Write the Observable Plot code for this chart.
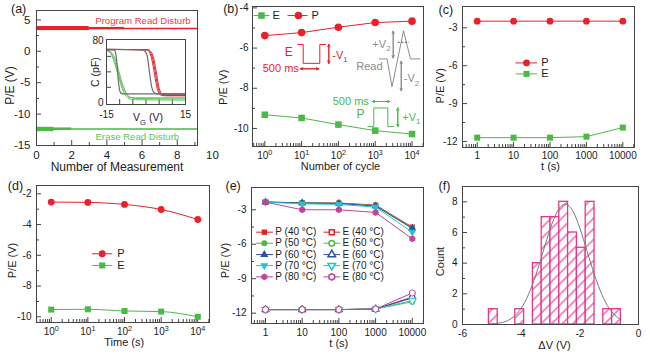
<!DOCTYPE html>
<html><head><meta charset="utf-8">
<script src="https://cdn.jsdelivr.net/npm/d3@7"></script>
<script src="https://cdn.jsdelivr.net/npm/@observablehq/plot@0.6"></script>
<style>
body{margin:0;background:#fff;}
#root{position:relative;width:650px;height:355px;overflow:hidden;background:#fff;}
#root svg{position:absolute;overflow:visible;}
</style></head><body><div id="root"></div>
<script>
// ---------------- DATA ----------------
// (a) read disturb
const aMeasurement = [0, 9.1];
const aProgram = [3.63, 3.63];
const aErase = [-12.37, -12.37];
const aProgramBands = [{from: 0, to: 3, lo: 3.3, hi: 3.95}, {from: 3, to: 5, lo: 3.45, hi: 3.8}];
const aEraseBands = [{from: 0, to: 1, lo: -12.8, hi: -12.1}, {from: 1, to: 2, lo: -12.6, hi: -12.2}];
// (a) inset C-V curves [V_G, C]
const cvGrayErase = [[-15,68.5],[-13,68.5],[-12,68],[-11.5,64],[-11,50],[-10.5,29],[-10,16],[-9.5,12.5],[-8.5,11.5],[15,11.5]];
const cvGrayProgram = [[-15,69],[-1.5,68.5],[-0.5,67],[0.5,60],[1.3,40],[2.2,20],[3,13.5],[4.5,11.5],[15,11.5]];
const cvRed1 = [[-15,69],[0,68.5],[1,66.5],[2,59],[3,42],[4,22],[5,12],[6,9.5],[8,9],[15,9]];
const cvRed2 = [[-15,69],[0.4,68.5],[1.4,66.5],[2.4,59],[3.4,42],[4.4,22],[5.4,12],[6.4,10],[8.4,9.5],[15,9.5]];
const cvRed3 = [[-15,69],[0.8,68.5],[1.8,66.5],[2.8,59],[3.8,42],[4.8,22],[5.8,12.5],[6.8,10.5],[8.8,10.5],[15,10.5]];
const cvGreen1 = [[-15,68],[-14,67],[-13,63],[-12,55],[-11,44],[-10,32],[-9,21],[-8,13],[-7,9],[-6,7],[-4,6.5],[15,6.5]];
const cvGreen2 = [[-15,68],[-14,67.5],[-13,65],[-12,59],[-11,49],[-10,37],[-9,25],[-8,16],[-7,10],[-6,7],[-4,5.5],[15,5]];
const cvGreen3 = [[-15,67],[-14,66],[-13,61],[-12,52],[-11,41],[-10,29],[-9,18],[-8,11],[-7,7],[-6,5],[-4,4],[15,3.5]];
// (b) endurance
const cycles = [1, 10, 100, 1000, 10000];
const bP = [-5.38, -5.23, -4.96, -4.73, -4.66];
const bE = [-9.32, -9.48, -9.81, -10.11, -10.28];
// (b) pulse schematics (in chart coordinates)
const bErasePulseX = [7.88, 11.05, 11.05, 31.2, 31.2, 44.6];
const bErasePulseY = [-5.82, -5.82, -6.76, -6.76, -5.82, -5.82];
const bReadX = [1309, 2093, 2864, 5875, 9103, 16490];
const bReadY = [-6.54, -6.54, -7.92, -5.14, -6.54, -6.54];
const bProgPulseX = [629, 916, 916, 2199, 2199, 3201];
const bProgPulseY = [-9.91, -9.91, -8.98, -8.98, -9.91, -9.91];
// (c) retention
const cTime = [1, 10, 100, 1000, 10000];
const cP = [-2.47, -2.47, -2.47, -2.47, -2.47];
const cE = [-11.7, -11.7, -11.7, -11.62, -10.9];
// (d) retention
const dTime = [1, 10, 100, 1000, 10000];
const dP = [-2.54, -2.56, -2.69, -3.02, -3.67];
const dE = [-9.53, -9.51, -9.62, -9.66, -10.0];
// (e) retention at temperature
const eTime = [1, 10, 100, 1000, 10000];
const eTemps = [40, 50, 60, 70, 80];
const eP = [
  [-2.33, -2.39, -2.42, -2.59, -4.51],
  [-2.33, -2.39, -2.43, -2.63, -4.57],
  [-2.33, -2.41, -2.45, -2.68, -4.63],
  [-2.33, -2.48, -2.53, -2.77, -4.95],
  [-2.33, -3.0, -3.0, -3.23, -5.53]];
const eE = [
  [-11.69, -11.69, -11.69, -11.64, -10.68],
  [-11.69, -11.69, -11.69, -11.64, -11.0],
  [-11.69, -11.69, -11.69, -11.64, -10.6],
  [-11.69, -11.69, -11.69, -11.64, -10.9],
  [-11.69, -11.69, -11.69, -11.64, -10.24]];
// (f) histogram of ΔV
const fBinStart = [-5.1, -4.2, -3.6, -3.3, -3.0, -2.7, -2.4, -2.1, -1.8, -1.2, -0.9];
const fBinEnd = [-4.8, -3.9, -3.3, -3.0, -2.7, -2.4, -2.1, -1.8, -1.5, -0.9, -0.6];
const fCount = [1, 1, 4, 7, 7, 8, 6, 5, 8, 1, 1];
const fFitX = [-5.0,-4.75,-4.5,-4.25,-4.0,-3.75,-3.5,-3.25,-3.0,-2.75,-2.5,-2.25,-2.0,-1.75,-1.5,-1.25,-1.0,-0.75,-0.6];
const fFitY = [0.03,0.09,0.22,0.52,1.06,1.96,3.23,4.76,6.29,7.43,7.85,7.43,6.29,4.76,3.23,1.96,1.06,0.52,0.32];

// ---------------- STYLE ----------------
const RED = "#e8212b", GREEN = "#4cb848", FRAME = "#454545", TXT = "#1c1c1c", GRAY = "#8c8c8c", PINK = "#e9348c";
const FONT = "'Liberation Sans', Arial, sans-serif";
const TEMP_COLORS = ["#ec1c24", "#4db748", "#2f4fa2", "#22c4d4", "#c2449a"];
const triangleDown = {draw(ctx, size) {const y = Math.sqrt(size / (Math.sqrt(3) * 3)); ctx.moveTo(0, y * 2); ctx.lineTo(-Math.sqrt(3) * y, -y); ctx.lineTo(Math.sqrt(3) * y, -y); ctx.closePath();}};
const TEMP_SYMBOLS = ["square", "circle", "triangle", triangleDown, "hexagon"];

const root = document.getElementById("root");
const rows = (xs, ys) => xs.map((x, i) => ({x, y: ys[i]}));
const pairs = (a) => a.map(([x, y]) => ({x, y}));
function logMinor(lo, hi) {const out = []; for (let e = -1; e <= 5; e++) for (let k = 2; k <= 9; k++) {const v = k * 10 ** e; if (v > lo && v < hi) out.push(v);} return out;}
const pow10 = d => "10^{" + Math.round(Math.log10(d)) + "}";
const LA = {lineAnchor: "middle"};

function rich(svg) {
  d3.select(svg).selectAll("text").each(function() {
    const t = this.textContent;
    if (!/[_^]\{/.test(t)) return;
    const parts = t.split(/([_^]\{[^}]*\})/).filter(s => s.length);
    const fs = parseFloat(getComputedStyle(this).fontSize) || 10;
    this.textContent = "";
    let shift = 0;
    for (const p of parts) {
      const ts = document.createElementNS("http://www.w3.org/2000/svg", "tspan");
      let target = 0, txt = p, small = false;
      if (p.startsWith("^{")) {target = -0.42 * fs; txt = p.slice(2, -1); small = true;}
      else if (p.startsWith("_{")) {target = 0.3 * fs; txt = p.slice(2, -1); small = true;}
      ts.setAttribute("dy", target - shift); shift = target;
      if (small) ts.setAttribute("font-size", (fs * 0.72).toFixed(1));
      ts.textContent = txt;
      this.appendChild(ts);
    }
  });
}

function label(x, y, t, o) {
  return Plot.text([{x, y, t}], {x: "x", y: "y", text: "t", lineAnchor: "middle", ...o});
}

function panel(c) {
  const fw = c.width - c.ml - c.mr, fh = c.height - c.mt - c.mb;
  const fs = c.fs || 10;
  const marks = [
    Plot.tickX(c.xMajor, {x: d => d, insetTop: fh - 5, stroke: FRAME}),
    Plot.tickX(c.xMinor || [], {x: d => d, insetTop: fh - 3, stroke: FRAME}),
    Plot.tickY(c.yMajor, {y: d => d, insetRight: fw - 5, stroke: FRAME}),
    Plot.tickY(c.yMinor || [], {y: d => d, insetRight: fw - 3, stroke: FRAME}),
    ...c.marks,
    Plot.frame({stroke: FRAME}),
    Plot.text(c.xLabels || c.xMajor, {x: d => d, text: c.xFmt || (d => String(d)), frameAnchor: "bottom", dy: c.xLabDy ?? 10, fontSize: fs, ...LA}),
    Plot.text(c.yLabels || c.yMajor, {y: d => d, text: c.yFmt || (d => String(d)), frameAnchor: "left", textAnchor: "end", dx: c.yLabDx ?? -5, fontSize: fs, ...LA}),
  ];
  if (c.xTitle) marks.push(Plot.text([c.xTitle], {text: d => d, frameAnchor: "bottom", dy: c.xTitleDy, dx: c.xTitleDx || 0, fontSize: c.titleFs || fs + 1, ...LA}));
  if (c.yTitle) marks.push(Plot.text([c.yTitle], {text: d => d, frameAnchor: "left", textAnchor: "middle", rotate: -90, dx: c.yTitleDx, dy: c.yTitleDy || 0, fontSize: c.titleFs || fs + 1, ...LA}));
  if (c.tag) marks.push(Plot.text([c.tag], {text: d => d, frameAnchor: "top-left", textAnchor: "start", dx: c.tagDx, dy: c.tagDy, fontSize: 12.5, ...LA}));
  const svg = Plot.plot({
    width: c.width, height: c.height,
    marginTop: c.mt, marginRight: c.mr, marginBottom: c.mb, marginLeft: c.ml,
    x: {...c.x, axis: null}, y: {...c.y, axis: null},
    style: {background: "transparent", fontFamily: FONT, fontSize: fs + "px", color: TXT, overflow: "visible"},
    marks
  });
  svg.style.left = c.left + "px";
  svg.style.top = c.top + "px";
  root.appendChild(svg);
  if (c.after) c.after(svg);
  rich(svg);
  return svg;
}

function dblArrow(list, color) {
  const fwd = list, back = list.map(d => ({x1: d.x2, y1: d.y2, x2: d.x1, y2: d.y1}));
  return [fwd, back].map(data => Plot.arrow(data, {x1: "x1", y1: "y1", x2: "x2", y2: "y2", stroke: color, strokeWidth: 1, headLength: 4, headAngle: 50}));
}
function seg(x1, x2, y, stroke) {
  return Plot.link([{x1, x2, y}], {x1: "x1", x2: "x2", y1: "y", y2: "y", stroke});
}

// ---------------- (a) ----------------
panel({
  left: 0, top: 0, width: 222, height: 175, mt: 10, mr: 25, mb: 30, ml: 36,
  x: {domain: [0, 9.15]}, y: {domain: [-15, 6.5]},
  xMajor: [0, 2, 4, 6, 8], xMinor: [1, 3, 5, 7, 9], xLabels: [0, 2, 4, 6, 8, 10],
  yMajor: [-15, -10, -5, 0, 5], yMinor: [-12.5, -7.5, -2.5, 2.5],
  fs: 11.5, titleFs: 12, xTitle: "Number of Measurement", xTitleDy: 21.5, yTitle: "P/E (V)", yTitleDx: -26, yTitleDy: 7.5,
  tag: "(a)", tagDx: -25.5, tagDy: -1.5, xLabDy: 10, yLabDx: -6,
  marks: [
    Plot.rect(aProgramBands, {x1: "from", x2: "to", y1: "lo", y2: "hi", fill: RED}),
    Plot.line(rows(aMeasurement, aProgram), {x: "x", y: "y", stroke: RED, strokeWidth: 1.6}),
    Plot.rect(aEraseBands, {x1: "from", x2: "to", y1: "lo", y2: "hi", fill: GREEN}),
    Plot.line(rows(aMeasurement, aErase), {x: "x", y: "y", stroke: GREEN, strokeWidth: 1.6}),
    label(6.05, 4.83, "Program Read Disturb", {fill: "#f03a3a", fontSize: 9.6}),
    label(5.73, -13.6, "Erase Read Disturb", {fill: "#5cc65c", fontSize: 9.6}),
  ]
});

// inset of (a)
panel({
  left: 80, top: 30, width: 115, height: 95, mt: 9, mr: 10, mb: 21, ml: 26,
  x: {domain: [-15, 15]}, y: {domain: [-2.2, 81.8]},
  xMajor: [-10, -5, 0, 5, 10], xLabels: [-15, 15], yMajor: [20, 40, 60], yLabels: [0, 80],
  fs: 10, titleFs: 10.5, xLabDy: 10.5, yLabDx: -3,
  xTitle: "V_{G} (V)", xTitleDy: 13.5, xTitleDx: 2, yTitle: "C (pF)", yTitleDx: -11,
  marks: [
    ...[cvGreen1, cvGreen2, cvGreen3].map(cv => Plot.line(pairs(cv), {x: "x", y: "y", stroke: "#5cc65a", strokeWidth: 1, curve: "monotone-x"})),
    ...[cvRed1, cvRed2, cvRed3].map(cv => Plot.line(pairs(cv), {x: "x", y: "y", stroke: RED, strokeWidth: 1, curve: "monotone-x"})),
    ...[cvGrayErase, cvGrayProgram].map(cv => Plot.line(pairs(cv), {x: "x", y: "y", stroke: "#6e6e6e", strokeWidth: 1.2, curve: "monotone-x"})),
  ]
});

// ---------------- (b) ----------------
const bXdom = [0.4634, 20512];
panel({
  left: 215, top: 0, width: 215, height: 175, mt: 6, mr: 7, mb: 29, ml: 37,
  x: {type: "log", domain: bXdom}, y: {domain: [-10.9, -3.93]},
  xMajor: cycles, xMinor: logMinor(...bXdom), xFmt: pow10,
  yMajor: [-10, -8, -6, -4], yMinor: [-9, -7, -5],
  xTitle: "Number of cycle", xTitleDy: 20, xTitleDx: 2.5, yTitle: "P/E (V)", yTitleDx: -28.7, yTitleDy: 10.7,
  tag: "(b)", tagDx: -29.3, tagDy: 2.3, xLabDy: 9.5, yLabDx: -4,
  marks: [
    // pulse schematics
    Plot.line(rows(bErasePulseX, bErasePulseY), {x: "x", y: "y", stroke: RED, strokeWidth: 1}),
    ...dblArrow([{x1: 54.8, y1: -5.82, x2: 54.8, y2: -6.76}, {x1: 9.33, y1: -7.03, x2: 29.3, y2: -7.03}], RED),
    label(4.49, -6.21, "E", {fill: RED, fontSize: 12}),
    label(67.9, -6.37, "-V_{1}", {fill: RED, fontSize: 11, textAnchor: "start"}),
    label(8.4, -7.03, "500 ms", {fill: RED, fontSize: 11, textAnchor: "end"}),
    Plot.line(rows(bReadX, bReadY), {x: "x", y: "y", stroke: GRAY, strokeWidth: 1}),
    ...dblArrow([{x1: 3084, y1: -5.16, x2: 3084, y2: -6.49}, {x1: 5090, y1: -6.66, x2: 5090, y2: -8.12}], GRAY),
    Plot.link([{x1: 4111, x2: 8185, y: -5.71}], {x1: "x1", x2: "x2", y1: "y", y2: "y", stroke: "#555", strokeDasharray: "2,1.5"}),
    label(2606, -5.82, "+V_{2}", {fill: GRAY, fontSize: 11, textAnchor: "end"}),
    label(1578, -6.92, "Read", {fill: GRAY, fontSize: 11, textAnchor: "end"}),
    label(5986, -7.53, "-V_{2}", {fill: GRAY, fontSize: 11, textAnchor: "start"}),
    Plot.line(rows(bProgPulseX, bProgPulseY), {x: "x", y: "y", stroke: GREEN, strokeWidth: 1}),
    ...dblArrow([{x1: 4111, y1: -8.98, x2: 4111, y2: -9.91}, {x1: 829, y1: -8.66, x2: 2495, y2: -8.66}], GREEN),
    label(399, -9.31, "P", {fill: GREEN, fontSize: 12}),
    label(5420, -9.45, "+V_{1}", {fill: GREEN, fontSize: 11, textAnchor: "start"}),
    label(670, -8.66, "500 ms", {fill: GREEN, fontSize: 11, textAnchor: "end"}),
    // data
    Plot.line(rows(cycles, bP), {x: "x", y: "y", stroke: RED, strokeWidth: 1}),
    Plot.dot(rows(cycles, bP), {x: "x", y: "y", fill: RED, r: 3.8, symbol: "circle"}),
    Plot.line(rows(cycles, bE), {x: "x", y: "y", stroke: GREEN, strokeWidth: 1}),
    Plot.dot(rows(cycles, bE), {x: "x", y: "y", fill: GREEN, r: 3.7, symbol: "square"}),
    // legend
    seg(0.493, 1.34, -4.38, GREEN),
    Plot.dot([{x: 0.813, y: -4.38}], {x: "x", y: "y", fill: GREEN, r: 3.7, symbol: "square"}),
    label(1.62, -4.38, "E", {textAnchor: "start", fontSize: 11}),
    seg(4.14, 14.5, -4.38, RED),
    Plot.dot([{x: 8.2, y: -4.38}], {x: "x", y: "y", fill: RED, r: 3.8, symbol: "circle"}),
    label(18.6, -4.38, "P", {textAnchor: "start", fontSize: 11}),
  ]
});

// ---------------- (c) ----------------
const cXdom = [0.3945, 20941];
panel({
  left: 430, top: 0, width: 220, height: 175, mt: 6, mr: 16, mb: 28, ml: 32,
  x: {type: "log", domain: cXdom}, y: {domain: [-12.48, -1.31]},
  xMajor: cTime, xMinor: logMinor(...cXdom),
  yMajor: [-12, -9, -6, -3], yMinor: [-10.5, -7.5, -4.5],
  xTitle: "t (s)", xTitleDy: 19, xTitleDx: 2, yTitle: "P/E (V)", yTitleDx: -22, yTitleDy: 8.7,
  tag: "(c)", tagDx: -24, tagDy: 3.3, xLabDy: 8.5,
  marks: [
    Plot.line(rows(cTime, cP), {x: "x", y: "y", stroke: RED, strokeWidth: 1}),
    Plot.dot(rows(cTime, cP), {x: "x", y: "y", fill: RED, r: 3.4, symbol: "circle"}),
    Plot.line(rows(cTime, cE), {x: "x", y: "y", stroke: GREEN, strokeWidth: 1}),
    Plot.dot(rows(cTime, cE), {x: "x", y: "y", fill: GREEN, r: 3.4, symbol: "square"}),
    seg(11.3, 44.5, -5.78, RED),
    Plot.dot([{x: 22.6, y: -5.78}], {x: "x", y: "y", fill: RED, r: 3.4, symbol: "circle"}),
    label(57.3, -5.78, "P", {textAnchor: "start", fontSize: 11}),
    seg(11.3, 44.5, -6.65, GREEN),
    Plot.dot([{x: 22.6, y: -6.65}], {x: "x", y: "y", fill: GREEN, r: 3.4, symbol: "square"}),
    label(57.3, -6.65, "E", {textAnchor: "start", fontSize: 11}),
  ]
});

// ---------------- (d) ----------------
const dXdom = [0.397, 20845];
panel({
  left: 0, top: 175, width: 215, height: 180, mt: 10, mr: 6, mb: 33, ml: 36,
  x: {type: "log", domain: dXdom}, y: {domain: [-10.37, -1.46]},
  xMajor: dTime, xMinor: logMinor(...dXdom), xFmt: pow10,
  yMajor: [-10, -8, -6, -4, -2], yMinor: [-9, -7, -5, -3],
  xTitle: "Time (s)", xTitleDy: 20, xTitleDx: 1.2, yTitle: "P/E (V)", yTitleDx: -24.3, yTitleDy: 6.5,
  tag: "(d)", tagDx: -28.7, tagDy: 0, xLabDy: 9.5,
  marks: [
    Plot.line(rows(dTime, dP), {x: "x", y: "y", stroke: RED, strokeWidth: 1, curve: "monotone-x"}),
    Plot.dot(rows(dTime, dP), {x: "x", y: "y", fill: RED, r: 3.4, symbol: "circle"}),
    Plot.line(rows(dTime, dE), {x: "x", y: "y", stroke: GREEN, strokeWidth: 1, curve: "monotone-x"}),
    Plot.dot(rows(dTime, dE), {x: "x", y: "y", fill: GREEN, r: 3.4, symbol: "square"}),
    seg(13.1, 46.2, -5.9, RED),
    Plot.dot([{x: 24.6, y: -5.9}], {x: "x", y: "y", fill: RED, r: 3.4, symbol: "circle"}),
    label(63.2, -5.9, "P", {textAnchor: "start", fontSize: 11}),
    seg(13.1, 46.2, -6.66, GREEN),
    Plot.dot([{x: 24.6, y: -6.66}], {x: "x", y: "y", fill: GREEN, r: 3.4, symbol: "square"}),
    label(63.2, -6.66, "E", {textAnchor: "start", fontSize: 11}),
  ]
});

// ---------------- (e) ----------------
const eXdom = [0.416, 20184];
const eLegendY = [-4.95, -5.91, -6.9, -7.86, -8.84];
const eMarks = [];
eTemps.forEach((t, i) => {
  const col = TEMP_COLORS[i], sym = TEMP_SYMBOLS[i];
  eMarks.push(Plot.line(rows(eTime, eE[i]), {x: "x", y: "y", stroke: col, strokeWidth: 1}));
  eMarks.push(Plot.dot(rows(eTime, eE[i]), {x: "x", y: "y", stroke: col, fill: "white", strokeWidth: 1, r: 2.8, symbol: sym}));
});
eTemps.forEach((t, i) => {
  const col = TEMP_COLORS[i], sym = TEMP_SYMBOLS[i];
  eMarks.push(Plot.line(rows(eTime, eP[i]), {x: "x", y: "y", stroke: col, strokeWidth: 1}));
  eMarks.push(Plot.dot(rows(eTime, eP[i]), {x: "x", y: "y", fill: col, r: 3, symbol: sym}));
  const ly = eLegendY[i];
  eMarks.push(seg(0.55, 1.6, ly, col));
  eMarks.push(Plot.dot([{x: 0.93, y: ly}], {x: "x", y: "y", fill: col, r: 3, symbol: sym}));
  eMarks.push(label(1.85, ly, `P (${t} °C)`, {textAnchor: "start", fontSize: 10}));
  eMarks.push(seg(38, 108, ly, col));
  eMarks.push(Plot.dot([{x: 64, y: ly}], {x: "x", y: "y", stroke: col, fill: "white", r: 2.8, symbol: sym}));
  eMarks.push(label(126, ly, `E (${t} °C)`, {textAnchor: "start", fontSize: 10}));
});
panel({
  left: 215, top: 175, width: 215, height: 180, mt: 12, mr: 7, mb: 32, ml: 36,
  x: {type: "log", domain: eXdom}, y: {domain: [-12.9, -1.06]},
  xMajor: eTime, xMinor: logMinor(...eXdom),
  yMajor: [-12, -9, -6, -3], yMinor: [-10.5, -7.5, -4.5],
  xTitle: "t (s)", xTitleDy: 20, xTitleDx: 1.3, yTitle: "P/E (V)", yTitleDx: -26, yTitleDy: 5,
  tag: "(e)", tagDx: -26, tagDy: -1.3, xLabDy: 9,
  marks: eMarks
});

// ---------------- (f) ----------------
const fBins = fBinStart.map((s, i) => ({s, e: fBinEnd[i], c: fCount[i]}));
panel({
  left: 430, top: 175, width: 220, height: 180, mt: 11, mr: 12, mb: 31, ml: 32,
  x: {domain: [-6, 0]}, y: {domain: [0, 9]},
  xMajor: [-6, -4, -2, 0], xMinor: [-5, -3, -1],
  yMajor: [0, 2, 4, 6, 8], yMinor: [1, 3, 5, 7],
  xTitle: "ΔV (V)", xTitleDy: 21, xTitleDx: 4, yTitle: "Count", yTitleDx: -22, yTitleDy: 6,
  tag: "(f)", tagDx: -24, tagDy: -1, xLabDy: 9.5,
  marks: [
    Plot.rect(fBins, {x1: "s", x2: "e", y1: 0, y2: "c", fill: "url(#hatchF)", stroke: PINK, strokeWidth: 1.3}),
    Plot.line(rows(fFitX, fFitY), {x: "x", y: "y", stroke: "#7a7a7a", strokeWidth: 1, curve: "natural"}),
  ],
  after(svg) {
    const defs = d3.select(svg).insert("defs", ":first-child");
    const pat = defs.append("pattern").attr("id", "hatchF").attr("patternUnits", "userSpaceOnUse")
      .attr("width", 7.5).attr("height", 7.5).attr("patternTransform", "rotate(45)");
    pat.append("rect").attr("width", 7.5).attr("height", 7.5).attr("fill", "white");
    pat.append("line").attr("x1", 3.75).attr("y1", 0).attr("x2", 3.75).attr("y2", 7.5).attr("stroke", PINK).attr("stroke-width", 1.1);
  }
});
</script></body></html>
